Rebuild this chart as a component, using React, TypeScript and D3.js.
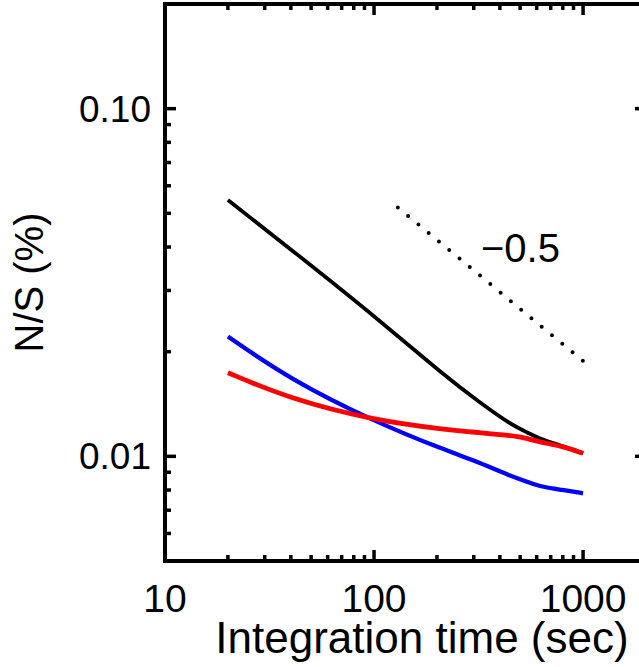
import React from 'react';
import * as d3 from 'd3';

// integration time (sec) and N/S (%)
const times = [20, 40, 100, 220, 320, 450, 530, 610, 800, 1000];
const blackSeries = [0.0546, 0.0394, 0.0254, 0.01695, 0.0143, 0.01236, 0.0118, 0.01127, 0.0107, 0.0102];
const blueSeries = [0.0221, 0.0166, 0.0126, 0.0104, 0.0096, 0.00877, 0.0085, 0.0082, 0.008, 0.00783];
const redSeries = [0.0174, 0.0146, 0.0127, 0.01194, 0.0117, 0.01148, 0.0113, 0.0110, 0.0107, 0.0102];

// reference slope line (-0.5)
const refTimes = [130, 1000];
const refValues = [0.052, 0.0188];
const refLabel = '\u22120.5';

const xMajor = [10, 100, 1000];
const xTickLabels = ['10', '100', '1000'];
const xMinor = [20, 30, 40, 50, 60, 70, 80, 90, 200, 300, 400, 500, 600, 700, 800, 900];
const yMajor = [0.01, 0.1];
const yTickLabels = ['0.01', '0.10'];
const yMinor = [0.006, 0.007, 0.008, 0.009, 0.02, 0.03, 0.04, 0.05, 0.06, 0.07, 0.08, 0.09];

const W = 639;
const H = 667;
const left = 165;
const right = 646;
const top = 4;
const bottom = 561;
const font = '"Liberation Sans", Arial, sans-serif';

const App = () => {
  const x = d3.scaleLog().domain([10, 2000]).range([left, right]);
  const y = d3.scaleLog().domain([0.005, 0.2]).range([bottom, top]);

  const line = d3
    .line<number>()
    .x((d, i) => x(times[i]))
    .y((d) => y(d))
    .curve(d3.curveBasis);

  const refLine = d3
    .line<number>()
    .x((d, i) => x(refTimes[i]))
    .y((d) => y(d));

  const tick = (k: string, x1: number, y1: number, x2: number, y2: number) => (
    <line key={k} x1={x1} y1={y1} x2={x2} y2={y2} stroke='black' strokeWidth={3.5} />
  );

  return (
    <svg
      width={W}
      height={H}
      style={{ position: 'absolute', left: 0, top: 0, background: 'white' }}
    >
      <path d={line(blackSeries) || ''} fill='none' stroke='black' strokeWidth={3.8} />
      <path d={line(blueSeries) || ''} fill='none' stroke='#0000ff' strokeWidth={4.3} />
      <path d={line(redSeries) || ''} fill='none' stroke='#ff0000' strokeWidth={4.8} />
      <path
        d={refLine(refValues) || ''}
        fill='none'
        stroke='black'
        strokeWidth={4}
        strokeDasharray='0 13.35'
        strokeLinecap='round'
      />
      <text x={481} y={262} fontFamily={font} fontSize={40} fill='black'>
        {refLabel}
      </text>

      {/* frame */}
      <rect
        x={left}
        y={top}
        width={right - left}
        height={bottom - top}
        fill='none'
        stroke='black'
        strokeWidth={4}
      />

      {xMajor.map((v) => (
        <g key={'xM' + v}>
          {tick('b', x(v), bottom, x(v), bottom - 11)}
          {tick('t', x(v), top, x(v), top + 11)}
        </g>
      ))}
      {xMinor.map((v) => (
        <g key={'xm' + v}>
          {tick('b', x(v), bottom, x(v), bottom - 6)}
          {tick('t', x(v), top, x(v), top + 6)}
        </g>
      ))}
      {yMajor.map((v) => (
        <g key={'yM' + v}>
          {tick('l', left, y(v), left + 11, y(v))}
          {tick('r', right, y(v), right - 11, y(v))}
        </g>
      ))}
      {yMinor.map((v) => (
        <g key={'ym' + v}>
          {tick('l', left, y(v), left + 6, y(v))}
          {tick('r', right, y(v), right - 6, y(v))}
        </g>
      ))}

      {xMajor.map((v, i) => (
        <text
          key={'xl' + v}
          x={x(v)}
          y={612}
          fontFamily={font}
          fontSize={39}
          textAnchor='middle'
          fill='black'
        >
          {xTickLabels[i]}
        </text>
      ))}
      {yMajor.map((v, i) => (
        <text
          key={'yl' + v}
          x={151}
          y={y(v) + 13}
          fontFamily={font}
          fontSize={37}
          textAnchor='end'
          fill='black'
        >
          {yTickLabels[i]}
        </text>
      ))}

      <text
        x={422}
        y={653}
        fontFamily={font}
        fontSize={44}
        textAnchor='middle'
        fill='black'
      >
        Integration time (sec)
      </text>
      <text
        transform={`translate(43, ${(top + bottom) / 2}) rotate(-90)`}
        fontFamily={font}
        fontSize={40}
        textAnchor='middle'
        fill='black'
      >
        N/S (%)
      </text>
    </svg>
  );
};

export default App;
